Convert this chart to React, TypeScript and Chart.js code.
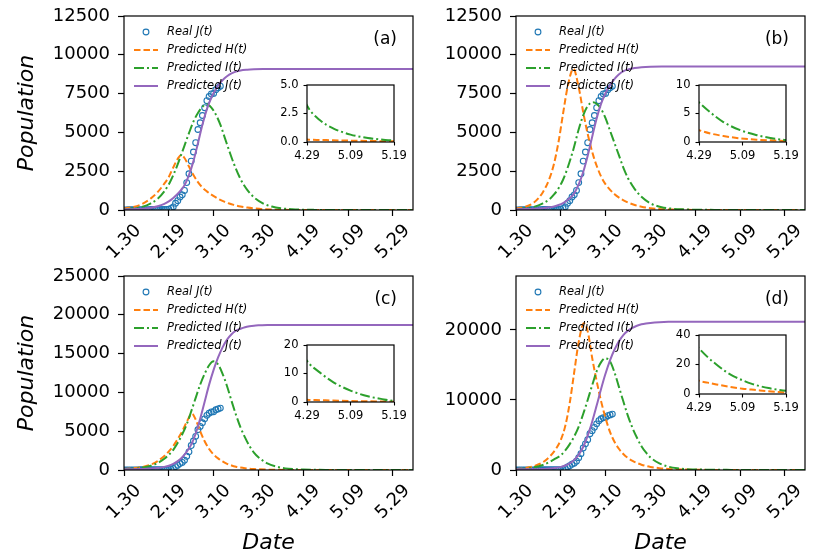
import React, { useEffect, useRef } from 'react';
import { Chart, registerables } from 'chart.js';
Chart.register(...registerables);

const W = 830;
const H = 554;
const FONT = "'DejaVu Sans'";

// ---- shared axis data ----
const X_TICK_DAYS = [0, 20, 40, 60, 80, 100, 120];
const X_TICK_LABELS = ['1.30', '2.19', '3.10', '3.30', '4.19', '5.09', '5.29'];
const X_MAX = 129;
const INSET_TICK_DAYS = [90, 100, 110];
const INSET_TICK_LABELS = ['4.29', '5.09', '5.19'];

// real cumulative confirmed cases, one per day from 1.30
const REAL_J = [6, 11, 12, 15, 15, 16, 19, 23, 24, 24, 27, 27, 28, 28, 28, 28, 28, 29, 30, 31,
  51, 104, 204, 433, 602, 833, 977, 1261, 1766, 2337, 3150, 3736, 4335, 5186, 5621, 6088,
  6593, 7041, 7313, 7478, 7513, 7755, 7869, 7979];

// ---- panel (a) ----
const DAYS_A = [0, 4, 8, 12, 15, 18, 20, 22, 24, 25.5, 27, 29, 31, 33, 35, 37, 39, 41, 43, 45,
  47, 49, 52, 55, 58, 62, 66, 70, 75, 80, 85, 90, 93, 96, 100, 104, 108, 110, 120, 129];
const H_A = [100, 190, 380, 750, 1150, 1700, 2130, 2750, 3300, 3550, 3350, 2800, 2250, 1800, 1450,
  1200, 990, 810, 650, 520, 415, 330, 230, 160, 105, 50, 24, 11, 4.5, 1.8, 0.7, 0.22, 0.18, 0.15,
  0.12, 0.09, 0.07, 0.06, 0.03, 0.01];
const I_A = [40, 90, 200, 430, 720, 1200, 1650, 2250, 2950, 3550, 4150, 4950, 5700, 6250, 6650,
  6820, 6600, 6150, 5500, 4650, 3800, 3000, 2000, 1300, 820, 430, 220, 110, 48, 20, 8, 3.2, 1.9,
  1.2, 0.65, 0.35, 0.18, 0.13, 0.03, 0.01];
const J_A = [40, 50, 80, 140, 240, 400, 560, 780, 1050, 1300, 1600, 2250, 3150, 4300, 5500, 6500,
  7250, 7800, 8200, 8500, 8720, 8870, 8990, 9040, 9065, 9080, 9085, 9090, 9090, 9090, 9090, 9090,
  9090, 9090, 9090, 9090, 9090, 9090, 9090, 9090];
const Y_TICKS_A = [0, 2500, 5000, 7500, 10000, 12500];
const Y_MAX_A = 12500;
const INSET_Y_TICKS_A = [0, 2.5, 5];
const INSET_Y_LABELS_A = ['0.0', '2.5', '5.0'];

// ---- panel (b) ----
const DAYS_B = [0, 4, 8, 12, 15, 17, 19, 21, 23, 25.6, 28, 30, 32, 34.3, 36, 38, 40, 42, 44, 46,
  48, 50, 53, 56, 60, 65, 70, 75, 80, 85, 90, 92.6, 95.6, 99.5, 103.3, 107.1, 110, 120, 129];
const H_B = [100, 200, 480, 1150, 2050, 3000, 4400, 6200, 7900, 9100, 7900, 6300, 4900, 3600, 2850,
  2150, 1650, 1300, 1020, 800, 620, 480, 320, 210, 120, 55, 25, 12, 6, 3.5, 2.07, 1.5, 1.05, 0.63,
  0.4, 0.26, 0.17, 0.05, 0.02];
const I_B = [40, 90, 200, 430, 700, 1000, 1400, 1950, 2700, 3900, 5200, 6100, 6700, 6950, 6850,
  6500, 5900, 5100, 4300, 3500, 2700, 2050, 1350, 850, 430, 180, 80, 38, 20, 11, 6.95, 5.2, 3.5,
  2.07, 1.2, 0.63, 0.34, 0.08, 0.02];
const J_B = [50, 60, 80, 120, 170, 230, 320, 450, 650, 1000, 1650, 2450, 3500, 4900, 5900, 6850,
  7550, 8050, 8450, 8750, 8950, 9060, 9150, 9200, 9235, 9250, 9250, 9250, 9250, 9250, 9250, 9250,
  9250, 9250, 9250, 9250, 9250, 9250, 9250];
const Y_TICKS_B = [0, 2500, 5000, 7500, 10000, 12500];
const Y_MAX_B = 12500;
const INSET_Y_TICKS_B = [0, 5, 10];
const INSET_Y_LABELS_B = ['0', '5', '10'];

// ---- panel (c) ----
const DAYS_C = [0, 4, 8, 12, 15, 18, 20, 22, 24, 26, 28, 30.4, 32, 34, 36, 38, 40, 42, 44, 46,
  48, 50, 52, 54, 56, 58, 60, 64, 68, 72, 76, 80, 85, 90, 93, 96, 100, 104, 107, 110, 120, 129];
const H_C = [130, 230, 380, 700, 1150, 1800, 2400, 3100, 4000, 5000, 6200, 7250, 6500, 5000, 3700,
  2700, 2000, 1500, 1100, 800, 580, 420, 310, 230, 170, 125, 90, 50, 27, 15, 8, 4.5, 2, 0.8, 0.65,
  0.5, 0.35, 0.25, 0.18, 0.13, 0.04, 0.01];
const I_C = [90, 160, 290, 550, 900, 1450, 1950, 2600, 3500, 4600, 5900, 7900, 9300, 11000, 12400,
  13500, 14000, 13600, 12400, 10800, 8900, 7100, 5500, 4200, 3100, 2250, 1650, 850, 430, 210, 110,
  60, 28, 14.4, 10.3, 7.0, 4.0, 2.0, 1.1, 0.4, 0.1, 0.03];
const J_C = [100, 105, 130, 180, 250, 400, 550, 800, 1150, 1650, 2350, 3500, 4700, 6600, 8800,
  11000, 12900, 14500, 15800, 16800, 17500, 17950, 18200, 18400, 18520, 18600, 18640, 18680, 18700,
  18700, 18700, 18700, 18700, 18700, 18700, 18700, 18700, 18700, 18700, 18700, 18700, 18700];
const Y_TICKS_C = [0, 5000, 10000, 15000, 20000, 25000];
const Y_MAX_C = 25000;
const INSET_Y_TICKS_C = [0, 10, 20];
const INSET_Y_LABELS_C = ['0', '10', '20'];

// ---- panel (d) ----
const DAYS_D = [0, 4, 8, 12, 15, 18, 20, 22, 24, 26, 28, 30.3, 32, 34, 36, 38, 39.8, 42, 44, 46,
  48, 50, 52, 54, 56, 58, 60, 64, 68, 72, 76, 80, 85, 90, 92, 94, 96, 98, 100, 102, 104, 106, 108,
  110, 120, 129];
const H_D = [140, 280, 560, 1100, 1900, 3100, 4300, 6300, 9600, 14000, 18300, 20950, 19800, 16000,
  12700, 9800, 7600, 5400, 4000, 3000, 2250, 1700, 1300, 1000, 760, 580, 440, 260, 150, 90, 55, 33,
  17, 9, 7.7, 6.5, 5.4, 4.4, 3.6, 3.0, 2.4, 1.9, 1.4, 1.0, 0.4, 0.15];
const I_D = [100, 180, 380, 720, 1150, 1700, 2100, 2800, 3700, 4800, 6200, 8300, 10000, 12100,
  14100, 15400, 15950, 15500, 13900, 11800, 9700, 7700, 6000, 4600, 3400, 2500, 1800, 950, 480, 240,
  130, 80, 48, 31, 25, 20, 15.5, 12, 9.3, 7, 5.3, 4, 3, 2.2, 0.5, 0.15];
const J_D = [100, 105, 120, 160, 220, 330, 450, 650, 950, 1450, 2200, 3500, 4900, 6900, 9200,
  11600, 13600, 15700, 17200, 18400, 19300, 19900, 20300, 20600, 20800, 20920, 21000, 21100, 21150,
  21150, 21150, 21150, 21150, 21150, 21150, 21150, 21150, 21150, 21150, 21150, 21150, 21150, 21150,
  21150, 21150, 21150];
const Y_TICKS_D = [0, 10000, 20000];
const Y_MAX_D = 27700;
const INSET_Y_TICKS_D = [0, 20, 40];
const INSET_Y_LABELS_D = ['0', '20', '40'];

const LEGEND_LABELS = ['Real J(t)', 'Predicted H(t)', 'Predicted I(t)', 'Predicted J(t)'];
const PANEL_TAGS = ['(a)', '(b)', '(c)', '(d)'];

// ---- styles ----
const BLUE = '#1f77b4';
const ORANGE = '#ff7f0e';
const GREEN = '#2ca02c';
const PURPLE = '#9467bd';
const DASH_H = [6.5, 3];
const DASH_I = [10, 3, 2, 3];
const LW = 2;

type Box = { l: number; t: number; r: number; b: number };
type Panel = {
  days: number[]; h: number[]; i: number[]; j: number[];
  yTicks: number[]; yMax: number;
  insetYTicks: number[]; insetYLabels: string[];
  tag: string; area: Box; inset: Box; yTitle: boolean; xTitle: boolean;
};

const PANELS: Panel[] = [
  { days: DAYS_A, h: H_A, i: I_A, j: J_A, yTicks: Y_TICKS_A, yMax: Y_MAX_A,
    insetYTicks: INSET_Y_TICKS_A, insetYLabels: INSET_Y_LABELS_A, tag: PANEL_TAGS[0],
    area: { l: 124, t: 16, r: 413, b: 210 }, inset: { l: 307, t: 85, r: 394, b: 142 },
    yTitle: true, xTitle: false },
  { days: DAYS_B, h: H_B, i: I_B, j: J_B, yTicks: Y_TICKS_B, yMax: Y_MAX_B,
    insetYTicks: INSET_Y_TICKS_B, insetYLabels: INSET_Y_LABELS_B, tag: PANEL_TAGS[1],
    area: { l: 516, t: 16, r: 805, b: 210 }, inset: { l: 699, t: 85, r: 786, b: 142 },
    yTitle: false, xTitle: false },
  { days: DAYS_C, h: H_C, i: I_C, j: J_C, yTicks: Y_TICKS_C, yMax: Y_MAX_C,
    insetYTicks: INSET_Y_TICKS_C, insetYLabels: INSET_Y_LABELS_C, tag: PANEL_TAGS[2],
    area: { l: 124, t: 276, r: 413, b: 470 }, inset: { l: 307, t: 345, r: 394, b: 402 },
    yTitle: true, xTitle: true },
  { days: DAYS_D, h: H_D, i: I_D, j: J_D, yTicks: Y_TICKS_D, yMax: Y_MAX_D,
    insetYTicks: INSET_Y_TICKS_D, insetYLabels: INSET_Y_LABELS_D, tag: PANEL_TAGS[3],
    area: { l: 516, t: 276, r: 805, b: 470 }, inset: { l: 699, t: 335, r: 786, b: 394 },
    yTitle: false, xTitle: true },
];

function curveSets(p: Panel) {
  const pts = (vals: number[]) => p.days.map((d, k) => ({ x: d, y: vals[k] }));
  const common = { pointRadius: 0, borderWidth: LW, cubicInterpolationMode: 'monotone' as const, fill: false };
  return [
    { ...common, label: LEGEND_LABELS[1], data: pts(p.h), borderColor: ORANGE, borderDash: DASH_H, order: 2 },
    { ...common, label: LEGEND_LABELS[2], data: pts(p.i), borderColor: GREEN, borderDash: DASH_I, order: 1 },
    { ...common, label: LEGEND_LABELS[3], data: pts(p.j), borderColor: PURPLE, order: 0 },
  ];
}

function drawLegend(ctx: CanvasRenderingContext2D, a: Box) {
  const rows = [16, 34, 52, 70];
  const x0 = a.l + 10, x1 = a.l + 34, tx = a.l + 43;
  ctx.save();
  ctx.font = `italic 11.5px ${FONT}`;
  ctx.textBaseline = 'middle';
  ctx.textAlign = 'left';
  ctx.fillStyle = '#000';
  ctx.beginPath();
  ctx.strokeStyle = BLUE; ctx.lineWidth = 1.1;
  ctx.arc(a.l + 22, a.t + rows[0], 2.9, 0, Math.PI * 2);
  ctx.stroke();
  const styles: [string, number[]][] = [[ORANGE, DASH_H], [GREEN, DASH_I], [PURPLE, []]];
  styles.forEach(([c, d], k) => {
    ctx.beginPath();
    ctx.strokeStyle = c; ctx.lineWidth = LW; ctx.setLineDash(d);
    ctx.moveTo(x0, a.t + rows[k + 1]); ctx.lineTo(x1, a.t + rows[k + 1]);
    ctx.stroke();
  });
  ctx.setLineDash([]);
  LEGEND_LABELS.forEach((s, k) => ctx.fillText(s, tx, a.t + rows[k]));
  ctx.restore();
}

function makeMain(canvas: HTMLCanvasElement, p: Panel) {
  const a = p.area;
  const overlay = {
    id: 'overlay',
    afterDraw(chart: any) {
      const ctx: CanvasRenderingContext2D = chart.ctx;
      const ca = chart.chartArea;
      ctx.save();
      ctx.strokeStyle = '#000'; ctx.lineWidth = 1.2;
      ctx.strokeRect(ca.left, ca.top, ca.right - ca.left, ca.bottom - ca.top);
      const xs = chart.scales.x;
      ctx.fillStyle = '#000';
      ctx.font = `18px ${FONT}`;
      ctx.textAlign = 'center'; ctx.textBaseline = 'middle';
      X_TICK_DAYS.forEach((d, k) => {
        const px = xs.getPixelForValue(d);
        ctx.save();
        ctx.translate(px, ca.bottom + 32);
        ctx.rotate(-Math.PI / 4);
        ctx.fillText(X_TICK_LABELS[k], 0, 0);
        ctx.restore();
      });
      ctx.font = `17px ${FONT}`;
      ctx.textAlign = 'right';
      ctx.fillText(p.tag, ca.right - 16, ca.top + 24);
      ctx.font = `italic 22px ${FONT}`;
      ctx.textAlign = 'center';
      if (p.yTitle) {
        ctx.save();
        ctx.translate(27, (ca.top + ca.bottom) / 2);
        ctx.rotate(-Math.PI / 2);
        ctx.fillText('Population', 0, 0);
        ctx.restore();
      }
      if (p.xTitle) {
        ctx.fillText('Date', (ca.left + ca.right) / 2, 543);
      }
      ctx.restore();
      drawLegend(ctx, { l: ca.left, t: ca.top, r: ca.right, b: ca.bottom });
    },
  };
  const realSet = {
    label: LEGEND_LABELS[0],
    data: REAL_J.map((v, k) => ({ x: k, y: v })),
    showLine: false, pointRadius: 2.9, pointBorderWidth: 1.1,
    pointBorderColor: BLUE, pointBackgroundColor: 'rgba(0,0,0,0)', borderColor: BLUE, order: 3,
  };
  return new Chart(canvas, {
    type: 'line',
    data: { datasets: [realSet, ...curveSets(p)] as any },
    options: {
      animation: false, responsive: false, events: [],
      layout: { padding: { left: 0, top: a.t, right: W - a.r, bottom: 0 }, autoPadding: false } as any,
      plugins: { legend: { display: false }, tooltip: { enabled: false } },
      scales: {
        x: {
          type: 'linear', min: 0, max: X_MAX,
          afterBuildTicks: (s: any) => { s.ticks = X_TICK_DAYS.map((v) => ({ value: v })); },
          ticks: { display: false },
          grid: { drawOnChartArea: false, drawTicks: true, tickLength: 6, tickWidth: 1.2, tickColor: '#000' },
          border: { display: false },
          afterFit: (s: any) => { s.height = H - a.b; s.paddingLeft = 0; s.paddingRight = 0; },
        },
        y: {
          type: 'linear', min: 0, max: p.yMax,
          afterBuildTicks: (s: any) => { s.ticks = p.yTicks.map((v) => ({ value: v })); },
          ticks: { callback: (v: any) => String(v), font: { family: FONT, size: 18 }, color: '#000', padding: 8, autoSkip: false },
          grid: { drawOnChartArea: false, drawTicks: true, tickLength: 6, tickWidth: 1.2, tickColor: '#000' },
          border: { display: false },
          afterFit: (s: any) => { s.width = a.l; s.paddingTop = 0; s.paddingBottom = 0; },
        },
      },
    } as any,
    plugins: [overlay],
  });
}

function makeInset(canvas: HTMLCanvasElement, p: Panel) {
  const b = p.inset;
  const deco = {
    id: 'deco',
    beforeDraw(chart: any) {
      const ca = chart.chartArea;
      chart.ctx.save();
      chart.ctx.fillStyle = '#fff';
      chart.ctx.fillRect(ca.left, ca.top, ca.right - ca.left, ca.bottom - ca.top);
      chart.ctx.restore();
    },
    afterDraw(chart: any) {
      const ca = chart.chartArea;
      const ctx = chart.ctx;
      ctx.save();
      ctx.strokeStyle = '#000'; ctx.lineWidth = 1.2;
      ctx.strokeRect(ca.left, ca.top, ca.right - ca.left, ca.bottom - ca.top);
      ctx.restore();
    },
  };
  const yMax = p.insetYTicks[p.insetYTicks.length - 1];
  return new Chart(canvas, {
    type: 'line',
    data: { datasets: curveSets(p).slice(0, 2) as any },
    options: {
      animation: false, responsive: false, events: [],
      layout: { padding: { left: 0, top: b.t, right: W - b.r, bottom: 0 }, autoPadding: false } as any,
      plugins: { legend: { display: false }, tooltip: { enabled: false } },
      scales: {
        x: {
          type: 'linear', min: INSET_TICK_DAYS[0], max: INSET_TICK_DAYS[INSET_TICK_DAYS.length - 1],
          afterBuildTicks: (s: any) => { s.ticks = INSET_TICK_DAYS.map((v) => ({ value: v })); },
          ticks: {
            callback: (_v: any, idx: number) => INSET_TICK_LABELS[idx],
            font: { family: FONT, size: 11.5 }, color: '#000', padding: 4,
            maxRotation: 0, minRotation: 0, autoSkip: false,
          },
          grid: { drawOnChartArea: false, drawTicks: true, tickLength: 3.5, tickWidth: 1.1, tickColor: '#000' },
          border: { display: false },
          afterFit: (s: any) => { s.height = H - b.b; s.paddingLeft = 0; s.paddingRight = 0; },
        },
        y: {
          type: 'linear', min: 0, max: yMax,
          afterBuildTicks: (s: any) => { s.ticks = p.insetYTicks.map((v) => ({ value: v })); },
          ticks: {
            callback: (_v: any, idx: number) => p.insetYLabels[idx],
            font: { family: FONT, size: 11.5 }, color: '#000', padding: 5, autoSkip: false,
          },
          grid: { drawOnChartArea: false, drawTicks: true, tickLength: 3.5, tickWidth: 1.1, tickColor: '#000' },
          border: { display: false },
          afterFit: (s: any) => { s.width = b.l; s.paddingTop = 0; s.paddingBottom = 0; },
        },
      },
    } as any,
    plugins: [deco],
  });
}

export default function App() {
  const refs = useRef<(HTMLCanvasElement | null)[]>([]);
  useEffect(() => {
    const charts: Chart[] = [];
    PANELS.forEach((p, k) => { charts.push(makeMain(refs.current[k]!, p)); });
    PANELS.forEach((p, k) => { charts.push(makeInset(refs.current[4 + k]!, p)); });
    return () => charts.forEach((c) => c.destroy());
  }, []);
  return (
    <div style={{ position: 'fixed', left: 0, top: 0, width: W, height: H, background: '#fff', overflow: 'hidden' }}>
      {Array.from({ length: 8 }).map((_, k) => (
        <canvas
          key={k}
          ref={(el) => { refs.current[k] = el; }}
          width={W}
          height={H}
          style={{ position: 'absolute', left: 0, top: 0, width: W, height: H }}
        />
      ))}
    </div>
  );
}
